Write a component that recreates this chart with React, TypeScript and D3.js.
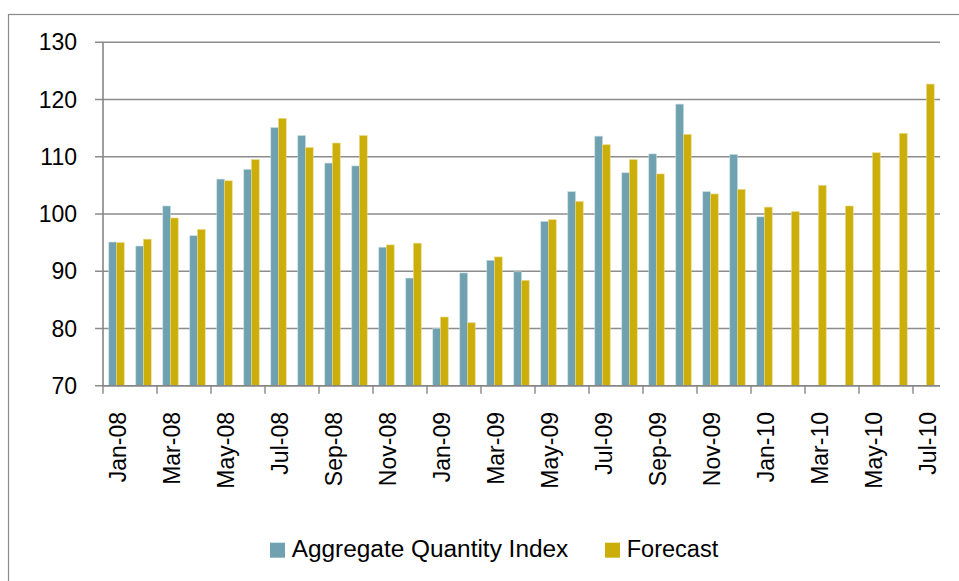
import React from "react";
import * as d3 from "d3";

const months = [
  "Jan-08","Feb-08","Mar-08","Apr-08","May-08","Jun-08","Jul-08","Aug-08","Sep-08","Oct-08","Nov-08","Dec-08",
  "Jan-09","Feb-09","Mar-09","Apr-09","May-09","Jun-09","Jul-09","Aug-09","Sep-09","Oct-09","Nov-09","Dec-09",
  "Jan-10","Feb-10","Mar-10","Apr-10","May-10","Jun-10","Jul-10",
];

const aggregateIndex: (number | null)[] = [
  95.1, 94.4, 101.4, 96.2, 106.1, 107.8, 115.1, 113.7, 108.9, 108.4, 94.2, 88.8,
  80.0, 89.7, 91.9, 89.9, 98.7, 103.9, 113.6, 107.2, 110.5, 119.2, 103.9, 110.4,
  99.5, null, null, null, null, null, null,
];

const forecast: number[] = [
  95.0, 95.6, 99.3, 97.3, 105.8, 109.5, 116.7, 111.6, 112.4, 113.7, 94.6, 94.9,
  82.0, 81.0, 92.5, 88.4, 99.0, 102.2, 112.1, 109.5, 107.0, 113.9, 103.5, 104.3,
  101.2, 100.4, 105.0, 101.4, 110.7, 114.1, 122.7,
];

const yTicks = [70, 80, 90, 100, 110, 120, 130];
const seriesNames = ["Aggregate Quantity Index", "Forecast"];
const seriesColors = ["#6FA1B1", "#CCAE0A"];
const seriesEdges = ["#C4DAE1", "#E8D880"];

const W = 959;
const H = 581;
const FONT = "'Liberation Sans', Arial, sans-serif";

export default function App() {
  const left = 103;
  const right = 940;
  const top = 42.3;
  const bottom = 385.7;

  const x = d3.scaleBand<string>().domain(months).range([left, right]).padding(0);
  const groupW = 15.4;
  const inner = d3.scaleBand<string>().domain(seriesNames).range([0, groupW]).padding(0);
  const y = d3.scaleLinear().domain([70, 130]).range([bottom, top]);

  const bw = x.bandwidth();
  const off = (bw - groupW) / 2;
  const seriesData = [aggregateIndex, forecast];

  const tickIdx = d3.range(0, months.length, 2);

  return (
    <svg
      width={W}
      height={H}
      style={{ position: "absolute", left: 0, top: 0, background: "#fff" }}
    >
      <rect x={0} y={0} width={W} height={H} fill="#fff" />
      {/* outer frame */}
      <rect x={8.5} y={14.5} width={W + 20} height={H + 20} fill="none" stroke="#8a8a8a" strokeWidth={1.2} />

      {/* gridlines + y ticks */}
      {yTicks.map((t) => (
        <g key={t}>
          <line x1={95} x2={right} y1={y(t)} y2={y(t)} stroke="#8c8c8c" strokeWidth={1.4} />
          <text
            x={77}
            y={y(t)}
            dy="0.35em"
            textAnchor="end"
            fontFamily={FONT}
            fontSize={23}
            fill="#000"
          >
            {t}
          </text>
        </g>
      ))}

      {/* bars */}
      {seriesData.map((vals, si) =>
        vals.map((v, i) =>
          v == null ? null : (
            <rect
              key={`${si}-${i}`}
              x={(x(months[i]) as number) + off + (inner(seriesNames[si]) as number)}
              y={y(v)}
              width={inner.bandwidth()}
              height={bottom - y(v)}
              fill={seriesColors[si]}
              stroke={seriesEdges[si]}
              strokeWidth={0.6}
            />
          )
        )
      )}

      {/* axes */}
      <line x1={left} x2={left} y1={top} y2={bottom} stroke="#868686" strokeWidth={1.6} />
      <line x1={left} x2={right} y1={bottom} y2={bottom} stroke="#868686" strokeWidth={1.6} />
      {tickIdx.map((i) => (
        <line
          key={i}
          x1={x(months[i]) as number}
          x2={x(months[i]) as number}
          y1={bottom}
          y2={bottom + 8}
          stroke="#868686"
          strokeWidth={1.4}
        />
      ))}
      {tickIdx.map((i) => {
        const cx = (x(months[i]) as number) + bw / 2 + 1.5;
        return (
          <text
            key={`l${i}`}
            transform={`translate(${cx},${412}) rotate(-90)`}
            dy="0.35em"
            textAnchor="end"
            fontFamily={FONT}
            fontSize={23}
            fill="#000"
          >
            {months[i]}
          </text>
        );
      })}

      {/* legend */}
      <rect x={270} y={542.7} width={15} height={15} fill={seriesColors[0]} />
      <text x={291.7} y={557.3} fontFamily={FONT} fontSize={23} textLength={276.6} lengthAdjust="spacingAndGlyphs">
        {seriesNames[0]}
      </text>
      <rect x={605} y={542.7} width={15} height={15} fill={seriesColors[1]} />
      <text x={626.7} y={557.3} fontFamily={FONT} fontSize={23} textLength={91.6} lengthAdjust="spacingAndGlyphs">
        {seriesNames[1]}
      </text>
    </svg>
  );
}
